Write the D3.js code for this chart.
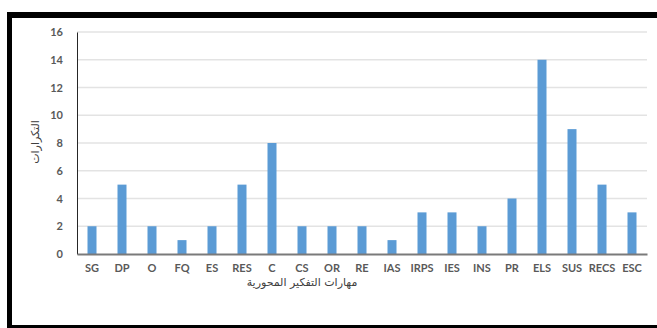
<!DOCTYPE html>
<html>
<head>
<meta charset="utf-8">
<script src="https://cdn.jsdelivr.net/npm/d3@7"></script>
<style>
  html, body { margin: 0; padding: 0; background: #fff; }
  svg { display: block; }
</style>
</head>
<body>
<svg id="chart" width="657" height="328"></svg>
<script>
// Frequency of each core thinking skill
const categories = ["SG","DP","O","FQ","ES","RES","C","CS","OR","RE","IAS","IRPS","IES","INS","PR","ELS","SUS","RECS","ESC"];
const counts = [2,5,2,1,2,5,8,2,2,2,1,3,3,2,4,14,9,5,3];
const yTicks = [0,2,4,6,8,10,12,14,16];
const xTitle = "مهارات التفكير المحورية";
const yTitle = "التكرارات";

const svg = d3.select("#chart");
const W = 657, H = 328;
const plot = { left: 77, right: 647, top: 32, bottom: 254 };

// outer black frame (open on the right)
svg.append("rect").attr("x", 0).attr("y", 0).attr("width", W).attr("height", H).attr("fill", "#fff");
svg.append("rect").attr("x", 7).attr("y", 12).attr("width", 5).attr("height", H - 12).attr("fill", "#000");
svg.append("rect").attr("x", 7).attr("y", 12).attr("width", W - 7).attr("height", 6).attr("fill", "#000");
svg.append("rect").attr("x", 7).attr("y", 325).attr("width", W - 7).attr("height", 3).attr("fill", "#000");

const x = d3.scaleBand().domain(categories).range([plot.left, plot.right]).paddingInner(0.7).paddingOuter(0.35);
const y = d3.scaleLinear().domain([0, 16]).range([plot.bottom, plot.top]);

// horizontal gridlines
svg.append("g")
  .selectAll("line")
  .data(yTicks.filter(t => t > 0))
  .join("line")
  .attr("x1", plot.left).attr("x2", plot.right)
  .attr("y1", d => y(d)).attr("y2", d => y(d))
  .attr("stroke", "#e3e3e3").attr("stroke-width", 1.5);

// bars
svg.append("g")
  .selectAll("rect")
  .data(categories.map((c, i) => ({ c, v: counts[i] })))
  .join("rect")
  .attr("x", d => x(d.c))
  .attr("width", x.bandwidth())
  .attr("y", d => y(d.v))
  .attr("height", d => y(0) - y(d.v))
  .attr("fill", "#5b9bd5");

// y axis
const yAxis = svg.append("g")
  .attr("transform", `translate(${plot.left},0)`)
  .call(d3.axisLeft(y).tickValues(yTicks).tickSize(0).tickPadding(14).tickFormat(d3.format("d")));
yAxis.select(".domain").attr("stroke", "#262626").attr("stroke-width", 1);
yAxis.selectAll("text")
  .attr("font-family", "Lato, 'Open Sans', sans-serif")
  .attr("font-weight", "bold")
  .attr("font-size", 11)
  .attr("fill", "#595959");

// x axis
const xAxis = svg.append("g")
  .attr("transform", `translate(0,${plot.bottom})`)
  .call(d3.axisBottom(x).tickSize(0).tickPadding(10));
xAxis.select(".domain").attr("stroke", "#7a7a7a").attr("stroke-width", 2);
xAxis.selectAll("text")
  .attr("font-family", "Lato, 'Open Sans', sans-serif")
  .attr("font-weight", "bold")
  .attr("font-size", 11)
  .attr("fill", "#595959");

// axis titles
svg.append("text")
  .attr("x", 302).attr("y", 286)
  .attr("text-anchor", "middle")
  .attr("font-family", "'DejaVu Sans', sans-serif")
  .attr("font-size", 11)
  .attr("fill", "#404040")
  .attr("direction", "rtl")
  .text(xTitle);

svg.append("text")
  .attr("transform", "translate(39,142) rotate(-90)")
  .attr("text-anchor", "middle")
  .attr("font-family", "'DejaVu Sans', sans-serif")
  .attr("font-size", 11)
  .attr("fill", "#404040")
  .attr("direction", "rtl")
  .text(yTitle);
</script>
</body>
</html>
